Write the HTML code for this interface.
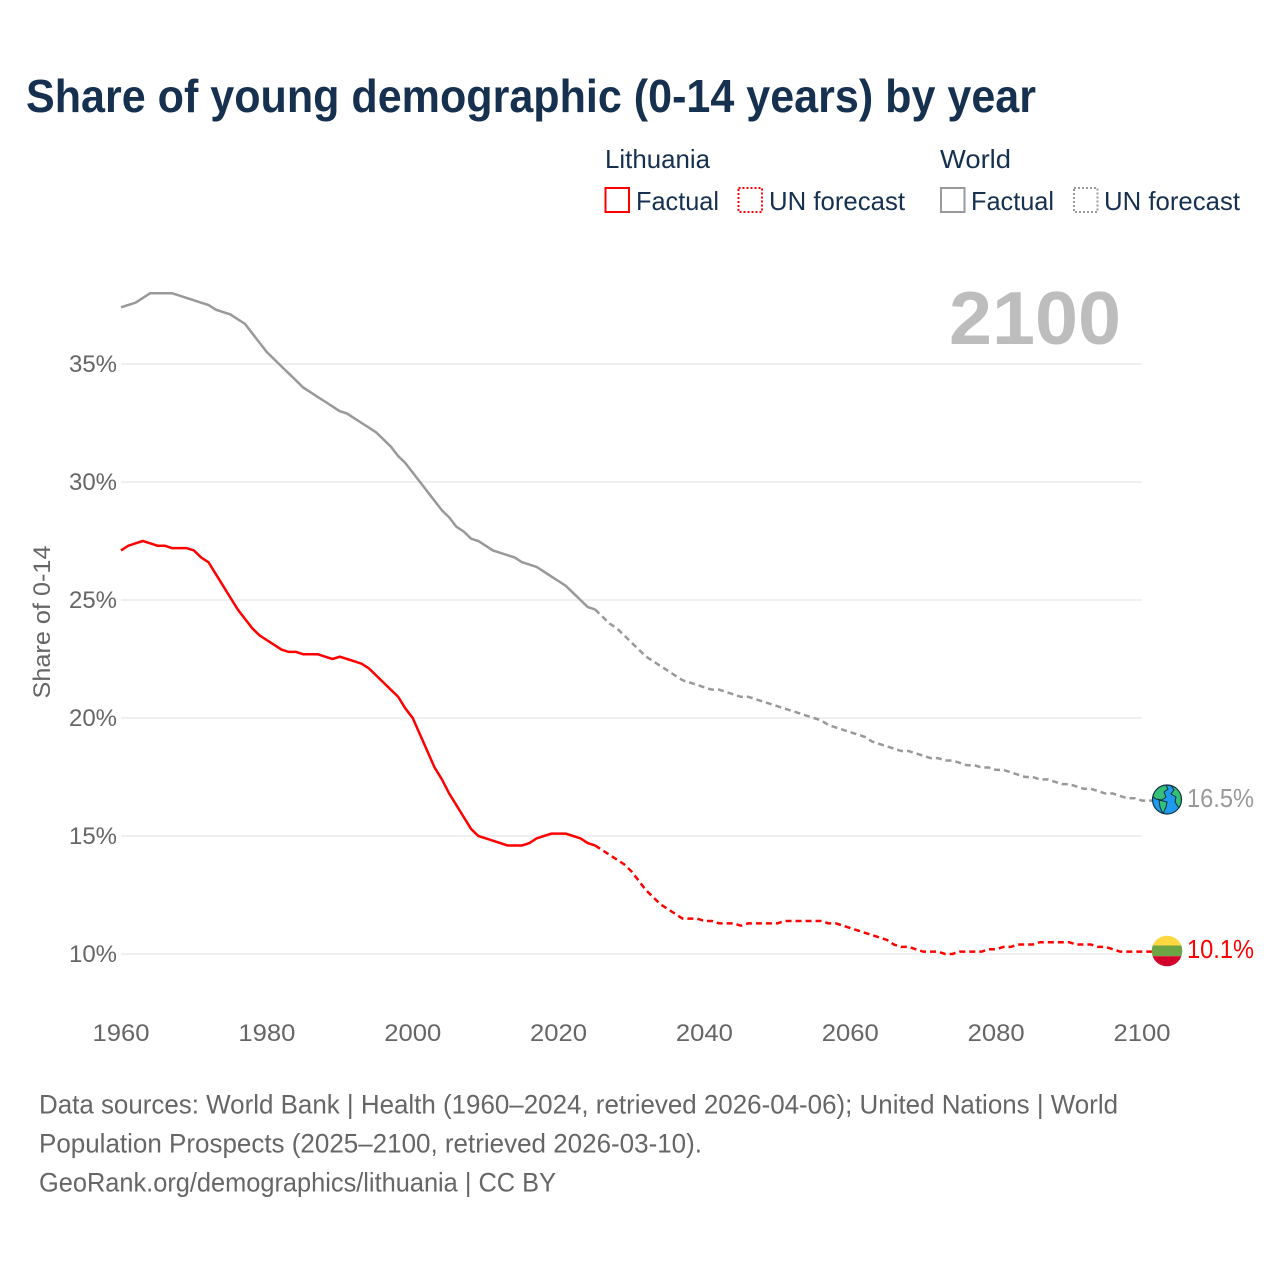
<!DOCTYPE html>
<html lang="en">
<head>
<meta charset="utf-8">
<title>Share of young demographic (0-14 years) by year</title>
<style>
html,body{margin:0;padding:0;background:#fff;width:1280px;height:1280px;overflow:hidden}
svg{display:block}
text{font-family:"Liberation Sans",sans-serif}
</style>
</head>
<body>
<svg id="chart" width="1280" height="1280" viewBox="0 0 1280 1280" xmlns="http://www.w3.org/2000/svg">
  <rect x="0" y="0" width="1280" height="1280" fill="#fff"/>
  <text x="26" y="112" font-size="46" font-weight="700" fill="#16304f" textLength="1010" lengthAdjust="spacingAndGlyphs">Share of young demographic (0-14 years) by year</text>

  <g fill="#16304f" font-size="26">
    <text x="605" y="168" textLength="105" lengthAdjust="spacingAndGlyphs">Lithuania</text>
    <text x="940" y="168" textLength="71" lengthAdjust="spacingAndGlyphs">World</text>
    <g>
      <rect x="605.5" y="188" width="23.5" height="24" fill="none" stroke="#ff0000" stroke-width="2"/>
      <text x="636" y="210" textLength="83" lengthAdjust="spacingAndGlyphs">Factual</text>
    </g>
    <g>
      <rect x="738.5" y="188" width="23.5" height="24" fill="none" stroke="#ff0000" stroke-width="2" stroke-dasharray="2 2"/>
      <text x="769" y="210" textLength="136" lengthAdjust="spacingAndGlyphs">UN forecast</text>
    </g>
    <g>
      <rect x="941" y="188" width="23.5" height="24" fill="none" stroke="#999999" stroke-width="2"/>
      <text x="971" y="210" textLength="83" lengthAdjust="spacingAndGlyphs">Factual</text>
    </g>
    <g>
      <rect x="1074" y="188" width="23.5" height="24" fill="none" stroke="#999999" stroke-width="2" stroke-dasharray="2 2"/>
      <text x="1104" y="210" textLength="136" lengthAdjust="spacingAndGlyphs">UN forecast</text>
    </g>
  </g>

  <g id="grid"></g>
  <g id="yticks" font-size="24" fill="#666666"></g>
  <g id="xticks" font-size="24" fill="#666666"></g>
  <text transform="translate(50,622) rotate(-90)" text-anchor="middle" font-size="24" fill="#666666" textLength="153" lengthAdjust="spacingAndGlyphs">Share of 0-14</text>
  <text x="949" y="344" font-size="75" font-weight="700" fill="#bdbdbd" textLength="172" lengthAdjust="spacingAndGlyphs">2100</text>

  <g id="lines"></g>

  <g>
    <clipPath id="globe-clip"><circle cx="1167" cy="799.5" r="14.5"/></clipPath>
    <circle cx="1167" cy="799.5" r="14.5" fill="#1e9bef"/>
    <g clip-path="url(#globe-clip)" fill="#35c07a" stroke="#12303a" stroke-width="1">
      <path d="M1152 796 L1157 787 L1165 784 L1168 789 L1164 792 L1166 797 L1162 800 L1156 799 Z"/>
      <path d="M1159 800 L1167 802 L1166 807 L1163 814 L1160 807 Z"/>
      <path d="M1170 784 L1177 787 L1182 794 L1183 802 L1179 808 L1175 802 L1176 797 L1171 794 L1174 790 Z"/>
    </g>
    <circle cx="1167" cy="799.5" r="14.5" fill="none" stroke="#12303a" stroke-width="1.2"/>
  </g>
  <g>
    <clipPath id="flag-clip"><circle cx="1167" cy="951" r="15.3"/></clipPath>
    <g clip-path="url(#flag-clip)">
      <rect x="1150" y="935" width="34" height="10.5" fill="#ffd740"/>
      <rect x="1150" y="945.5" width="34" height="10.7" fill="#6da544"/>
      <rect x="1150" y="956.2" width="34" height="12" fill="#d3002a"/>
    </g>
  </g>
  <text x="1187" y="807" font-size="26" fill="#999999" textLength="67" lengthAdjust="spacingAndGlyphs">16.5%</text>
  <text x="1187" y="958" font-size="26" fill="#ff0000" textLength="67" lengthAdjust="spacingAndGlyphs">10.1%</text>

  <g font-size="27" fill="#666666">
    <text x="39" y="1113.5" textLength="1079" lengthAdjust="spacingAndGlyphs">Data sources: World Bank | Health (1960–2024, retrieved 2026-04-06); United Nations | World</text>
    <text x="39" y="1152.5" textLength="663" lengthAdjust="spacingAndGlyphs">Population Prospects (2025–2100, retrieved 2026-03-10).</text>
    <text x="39" y="1191.5" textLength="517" lengthAdjust="spacingAndGlyphs">GeoRank.org/demographics/lithuania | CC BY</text>
  </g>
</svg>
<script>
const xTickYears = [1960, 1980, 2000, 2020, 2040, 2060, 2080, 2100];
const yTickValues = [10, 15, 20, 25, 30, 35];
const factualStartYear = 1960;
const forecastStartYear = 2025;
const worldFactual = [37.4,37.5,37.6,37.8,38.0,38.0,38.0,38.0,37.9,37.8,37.7,37.6,37.5,37.3,37.2,37.1,36.9,36.7,36.3,35.9,35.5,35.2,34.9,34.6,34.3,34.0,33.8,33.6,33.4,33.2,33.0,32.9,32.7,32.5,32.3,32.1,31.8,31.5,31.1,30.8,30.4,30.0,29.6,29.2,28.8,28.5,28.1,27.9,27.6,27.5,27.3,27.1,27.0,26.9,26.8,26.6,26.5,26.4,26.2,26.0,25.8,25.6,25.3,25.0,24.7,24.6];
const worldForecast = [24.6,24.3,24.0,23.8,23.5,23.2,22.9,22.6,22.4,22.2,22.0,21.8,21.6,21.5,21.4,21.3,21.2,21.2,21.1,21.0,20.9,20.9,20.8,20.7,20.6,20.5,20.4,20.3,20.2,20.1,20.0,19.9,19.7,19.6,19.5,19.4,19.3,19.2,19.0,18.9,18.8,18.7,18.6,18.6,18.5,18.4,18.3,18.3,18.2,18.2,18.1,18.0,18.0,17.9,17.9,17.8,17.8,17.7,17.6,17.5,17.5,17.4,17.4,17.3,17.2,17.2,17.1,17.0,17.0,16.9,16.8,16.8,16.7,16.6,16.6,16.5];
const lithuaniaFactual = [27.1,27.3,27.4,27.5,27.4,27.3,27.3,27.2,27.2,27.2,27.1,26.8,26.6,26.1,25.6,25.1,24.6,24.2,23.8,23.5,23.3,23.1,22.9,22.8,22.8,22.7,22.7,22.7,22.6,22.5,22.6,22.5,22.4,22.3,22.1,21.8,21.5,21.2,20.9,20.4,20.0,19.3,18.6,17.9,17.4,16.8,16.3,15.8,15.3,15.0,14.9,14.8,14.7,14.6,14.6,14.6,14.7,14.9,15.0,15.1,15.1,15.1,15.0,14.9,14.7,14.6];
const lithuaniaForecast = [14.6,14.4,14.2,14.0,13.8,13.5,13.1,12.7,12.4,12.1,11.9,11.7,11.5,11.5,11.5,11.4,11.4,11.3,11.3,11.3,11.2,11.3,11.3,11.3,11.3,11.3,11.4,11.4,11.4,11.4,11.4,11.4,11.3,11.3,11.2,11.1,11.0,10.9,10.8,10.7,10.6,10.4,10.3,10.3,10.2,10.1,10.1,10.1,10.0,10.0,10.1,10.1,10.1,10.1,10.2,10.2,10.3,10.3,10.4,10.4,10.4,10.5,10.5,10.5,10.5,10.5,10.4,10.4,10.4,10.3,10.3,10.2,10.1,10.1,10.1,10.1];

const NS = 'http://www.w3.org/2000/svg';
const xScale = year => 121 + (year - 1960) * (1142 - 121) / 140;
const yScale = value => 954 - (value - 10) * 23.6;

function pathFor(values, startYear) {
  return values.map((v, i) => (i ? 'L' : 'M') + xScale(startYear + i).toFixed(2) + ' ' + yScale(v).toFixed(2)).join(' ');
}

const gridGroup = document.getElementById('grid');
const yTickGroup = document.getElementById('yticks');
yTickValues.forEach(v => {
  const line = document.createElementNS(NS, 'line');
  
  
  line.setAttribute('x1', xScale(1960));
  line.setAttribute('x2', xScale(2100));
  line.setAttribute('y1', yScale(v));
  line.setAttribute('y2', yScale(v));
  line.setAttribute('stroke', '#eeeeee');
  line.setAttribute('stroke-width', '1.7');
  gridGroup.appendChild(line);
  const label = document.createElementNS(NS, 'text');
  
  
  label.setAttribute('x', 117);
  label.setAttribute('y', yScale(v) + 8);
  label.setAttribute('text-anchor', 'end');
  label.setAttribute('textLength', '48');
  label.setAttribute('lengthAdjust', 'spacingAndGlyphs');
  label.textContent = v + '%';
  yTickGroup.appendChild(label);
});

const xTickGroup = document.getElementById('xticks');
xTickYears.forEach(y => {
  const label = document.createElementNS(NS, 'text');
  
  
  label.setAttribute('x', xScale(y));
  label.setAttribute('y', 1041);
  label.setAttribute('text-anchor', 'middle');
  label.setAttribute('textLength', '57');
  label.setAttribute('lengthAdjust', 'spacingAndGlyphs');
  label.textContent = y;
  xTickGroup.appendChild(label);
});

const lineGroup = document.getElementById('lines');

const worldFactualLine = document.createElementNS(NS, 'path');


worldFactualLine.setAttribute('d', pathFor(worldFactual, factualStartYear));
worldFactualLine.setAttribute('fill', 'none');
worldFactualLine.setAttribute('stroke', '#999999');
worldFactualLine.setAttribute('stroke-width', '2.5');
lineGroup.appendChild(worldFactualLine);

const worldForecastLine = document.createElementNS(NS, 'path');


worldForecastLine.setAttribute('d', pathFor(worldForecast, forecastStartYear) + ' h 10');
worldForecastLine.setAttribute('fill', 'none');
worldForecastLine.setAttribute('stroke', '#999999');
worldForecastLine.setAttribute('stroke-width', '2.5');
worldForecastLine.setAttribute('stroke-dasharray', '6 4');
lineGroup.appendChild(worldForecastLine);

const lithuaniaFactualLine = document.createElementNS(NS, 'path');


lithuaniaFactualLine.setAttribute('d', pathFor(lithuaniaFactual, factualStartYear));
lithuaniaFactualLine.setAttribute('fill', 'none');
lithuaniaFactualLine.setAttribute('stroke', '#ff0000');
lithuaniaFactualLine.setAttribute('stroke-width', '2.5');
lineGroup.appendChild(lithuaniaFactualLine);

const lithuaniaForecastLine = document.createElementNS(NS, 'path');


lithuaniaForecastLine.setAttribute('d', pathFor(lithuaniaForecast, forecastStartYear) + ' h 10');
lithuaniaForecastLine.setAttribute('fill', 'none');
lithuaniaForecastLine.setAttribute('stroke', '#ff0000');
lithuaniaForecastLine.setAttribute('stroke-width', '2.5');
lithuaniaForecastLine.setAttribute('stroke-dasharray', '6 4');
lineGroup.appendChild(lithuaniaForecastLine);
</script>
</body>
</html>
